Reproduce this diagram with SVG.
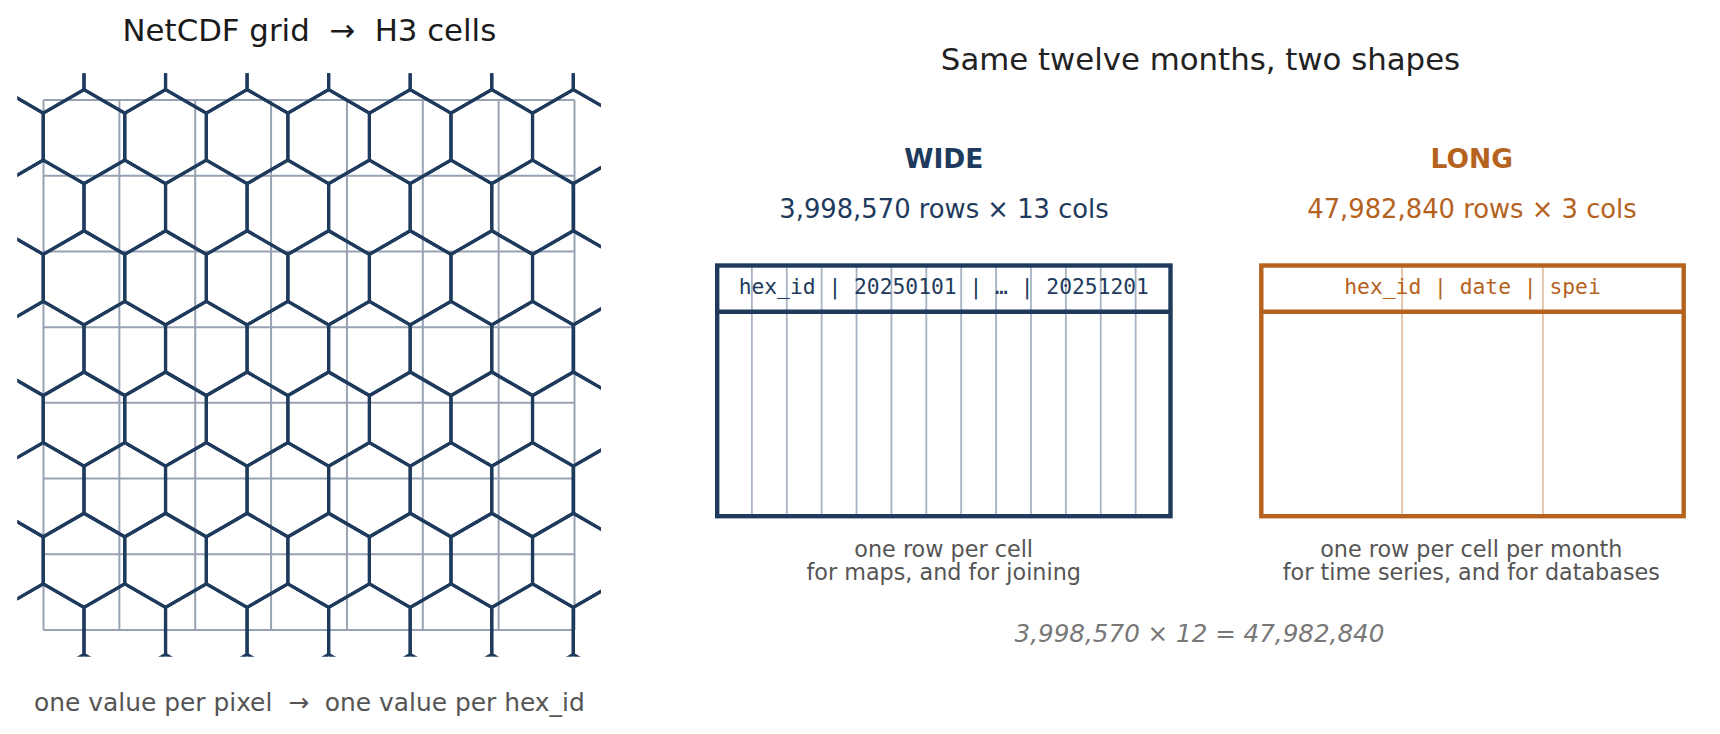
<svg xmlns="http://www.w3.org/2000/svg" xmlns:xlink="http://www.w3.org/1999/xlink" width="1720" height="734" viewBox="0 0 1720 734">
<style>
text{font-family:"DejaVu Sans","Liberation Sans",sans-serif;}
.title{font-size:30.8px;fill:#1a1a1a;text-anchor:middle;}
.cap{font-size:24.9px;fill:#555555;text-anchor:middle;}
.sub{font-size:22.3px;fill:#555555;text-anchor:middle;}
.eq{font-size:24.6px;fill:#777777;text-anchor:middle;font-style:italic;}
.head{font-size:26.5px;font-weight:bold;text-anchor:middle;}
.cnt{font-size:25.8px;text-anchor:middle;}
.mono{font-family:"DejaVu Sans Mono","Liberation Mono",monospace;font-size:21.3px;text-anchor:middle;}
.navy{fill:#1e3a5c;}
.orange{fill:#b5621e;}
.hex{fill:none;stroke:#1e3a5c;stroke-width:3.2;stroke-linejoin:miter;}
.grid{fill:none;stroke:#97a3b3;stroke-width:2;}
.tw{fill:none;stroke:#1e3a5c;stroke-width:4.4;}
.tl{fill:none;stroke:#b5621e;stroke-width:4.4;}
.cw{stroke:#a7b3c4;stroke-width:1.8;}
.cl{stroke:#e2c2a4;stroke-width:1.8;}
</style>
<defs>
<path id="hx" d="M0,-47.08 L40.78,-23.54 L40.78,23.54 L0,47.08 L-40.78,23.54 L-40.78,-23.54 Z"/>
<clipPath id="clip"><rect x="17.4" y="73.3" width="583.6" height="583.4"/></clipPath>
</defs>
<rect width="1720" height="734" fill="#ffffff"/>

<g id="left-title"><text class="title" x="309.4" y="40.5" xml:space="preserve">NetCDF grid  →  H3 cells</text></g>

<g id="pixel-grid">
<path class="grid" d="M43.5,100 V630 M119.36,100 V630 M195.22,100 V630 M271.08,100 V630 M346.94,100 V630 M422.8,100 V630 M498.66,100 V630 M574.52,100 V630 M43.5,100 H574.52 M43.5,175.71 H574.52 M43.5,251.42 H574.52 M43.5,327.13 H574.52 M43.5,402.84 H574.52 M43.5,478.55 H574.52 M43.5,554.26 H574.52 M43.5,629.97 H574.52"/>
</g>

<g id="h3-cells" class="hex" clip-path="url(#clip)">
<use href="#hx" x="43.22" y="65.98"/><use href="#hx" x="124.77" y="65.98"/><use href="#hx" x="206.32" y="65.98"/><use href="#hx" x="287.87" y="65.98"/><use href="#hx" x="369.42" y="65.98"/><use href="#hx" x="450.97" y="65.98"/><use href="#hx" x="532.52" y="65.98"/><use href="#hx" x="614.07" y="65.98"/>
<use href="#hx" x="2.45" y="136.6"/><use href="#hx" x="84" y="136.6"/><use href="#hx" x="165.55" y="136.6"/><use href="#hx" x="247.1" y="136.6"/><use href="#hx" x="328.65" y="136.6"/><use href="#hx" x="410.2" y="136.6"/><use href="#hx" x="491.75" y="136.6"/><use href="#hx" x="573.3" y="136.6"/>
<use href="#hx" x="43.22" y="207.22"/><use href="#hx" x="124.77" y="207.22"/><use href="#hx" x="206.32" y="207.22"/><use href="#hx" x="287.87" y="207.22"/><use href="#hx" x="369.42" y="207.22"/><use href="#hx" x="450.97" y="207.22"/><use href="#hx" x="532.52" y="207.22"/><use href="#hx" x="614.07" y="207.22"/>
<use href="#hx" x="2.45" y="277.84"/><use href="#hx" x="84" y="277.84"/><use href="#hx" x="165.55" y="277.84"/><use href="#hx" x="247.1" y="277.84"/><use href="#hx" x="328.65" y="277.84"/><use href="#hx" x="410.2" y="277.84"/><use href="#hx" x="491.75" y="277.84"/><use href="#hx" x="573.3" y="277.84"/>
<use href="#hx" x="43.22" y="348.46"/><use href="#hx" x="124.77" y="348.46"/><use href="#hx" x="206.32" y="348.46"/><use href="#hx" x="287.87" y="348.46"/><use href="#hx" x="369.42" y="348.46"/><use href="#hx" x="450.97" y="348.46"/><use href="#hx" x="532.52" y="348.46"/><use href="#hx" x="614.07" y="348.46"/>
<use href="#hx" x="2.45" y="419.08"/><use href="#hx" x="84" y="419.08"/><use href="#hx" x="165.55" y="419.08"/><use href="#hx" x="247.1" y="419.08"/><use href="#hx" x="328.65" y="419.08"/><use href="#hx" x="410.2" y="419.08"/><use href="#hx" x="491.75" y="419.08"/><use href="#hx" x="573.3" y="419.08"/>
<use href="#hx" x="43.22" y="489.7"/><use href="#hx" x="124.77" y="489.7"/><use href="#hx" x="206.32" y="489.7"/><use href="#hx" x="287.87" y="489.7"/><use href="#hx" x="369.42" y="489.7"/><use href="#hx" x="450.97" y="489.7"/><use href="#hx" x="532.52" y="489.7"/><use href="#hx" x="614.07" y="489.7"/>
<use href="#hx" x="2.45" y="560.32"/><use href="#hx" x="84" y="560.32"/><use href="#hx" x="165.55" y="560.32"/><use href="#hx" x="247.1" y="560.32"/><use href="#hx" x="328.65" y="560.32"/><use href="#hx" x="410.2" y="560.32"/><use href="#hx" x="491.75" y="560.32"/><use href="#hx" x="573.3" y="560.32"/>
<use href="#hx" x="43.22" y="630.94"/><use href="#hx" x="124.77" y="630.94"/><use href="#hx" x="206.32" y="630.94"/><use href="#hx" x="287.87" y="630.94"/><use href="#hx" x="369.42" y="630.94"/><use href="#hx" x="450.97" y="630.94"/><use href="#hx" x="532.52" y="630.94"/><use href="#hx" x="614.07" y="630.94"/>
</g>

<g id="left-caption"><text class="cap" x="309.4" y="710.7" xml:space="preserve">one value per pixel  →  one value per hex_id</text></g>

<g id="right-title"><text class="title" x="1200.5" y="70" style="fill:#222222">Same twelve months, two shapes</text></g>

<g id="wide-table">
<text class="head navy" x="943.8" y="168.3">WIDE</text>
<text class="cnt navy" x="944" y="218.3">3,998,570 rows × 13 cols</text>
<path class="cw" d="M751.88,265.5 V516.2 M786.77,265.5 V516.2 M821.65,265.5 V516.2 M856.54,265.5 V516.2 M891.42,265.5 V516.2 M926.31,265.5 V516.2 M961.19,265.5 V516.2 M996.08,265.5 V516.2 M1030.96,265.5 V516.2 M1065.85,265.5 V516.2 M1100.73,265.5 V516.2 M1135.62,265.5 V516.2"/>
<rect class="tw" x="717.2" y="265.5" width="453.3" height="250.7"/>
<line class="tw" x1="717.2" y1="311.8" x2="1170.5" y2="311.8"/>
<text class="mono navy" x="943.8" y="294">hex_id | 20250101 | … | 20251201</text>
<text class="sub" x="943.7" y="557">one row per cell</text>
<text class="sub" x="943.7" y="580">for maps, and for joining</text>
</g>

<g id="long-table">
<text class="head orange" x="1471.7" y="168.3">LONG</text>
<text class="cnt orange" x="1472" y="218.3">47,982,840 rows × 3 cols</text>
<path class="cl" d="M1402.1,265.5 V516.2 M1542.9,265.5 V516.2"/>
<rect class="tl" x="1261.3" y="265.5" width="422.4" height="250.7"/>
<line class="tl" x1="1261.3" y1="311.8" x2="1683.7" y2="311.8"/>
<text class="mono orange" x="1472.5" y="294">hex_id | date | spei</text>
<text class="sub" x="1471.3" y="557">one row per cell per month</text>
<text class="sub" x="1471.3" y="580">for time series, and for databases</text>
</g>

<g id="equation"><text class="eq" x="1199.5" y="642">3,998,570 × 12 = 47,982,840</text></g>

<g id="connectors"></g>
</svg>
